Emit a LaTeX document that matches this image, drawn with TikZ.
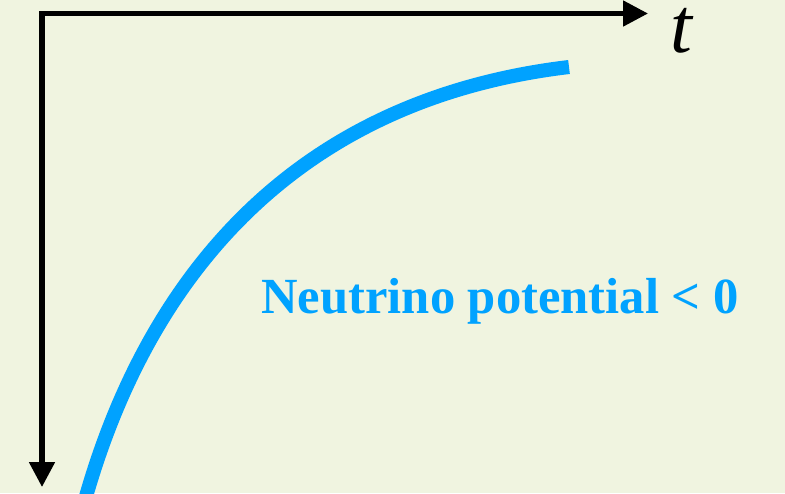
\documentclass[tikz,border=0pt]{standalone}
\usepackage{xcolor}
\usepackage{fontspec}
\setmainfont{Liberation Serif}
\usepackage{tikz}
\usetikzlibrary{arrows.meta}

\definecolor{paper}{RGB}{240,244,224}
\definecolor{nublue}{RGB}{0,162,255}

\begin{document}
\begin{tikzpicture}[x=0.03cm, y=-0.03cm,
  axis/.style={line width=4.3pt, black, line join=miter},
  potcurve/.style={line width=12pt, nublue}]
\fill[paper] (0,0) rectangle (785,493);
\useasboundingbox (0,0) rectangle (785,493);
\coordinate (origin) at (42,13.5);
\coordinate (tend) at (648,13.5);
\coordinate (down) at (42,487);
\draw[axis, {Triangle[length=0.75cm, width=0.75cm]}-{Triangle[length=0.75cm, width=0.75cm]}] (tend) -- (origin) -- (down);
\node[anchor=base, inner sep=0pt, text height=1.3cm, text depth=0pt, font=\fontsize{67}{70}\selectfont\itshape] (tlabel) at (681,52) {t};
\coordinate (start) at (85,500);
\coordinate (stop) at (569,67);
\draw[potcurve] (start) .. controls (150,270) and (300,99) .. (stop);
\node[anchor=base, inner sep=0pt, text=nublue, font=\fontsize{43.2}{48}\selectfont\bfseries] (potlabel) at (500,313) {Neutrino potential < 0};
\end{tikzpicture}
\end{document}
